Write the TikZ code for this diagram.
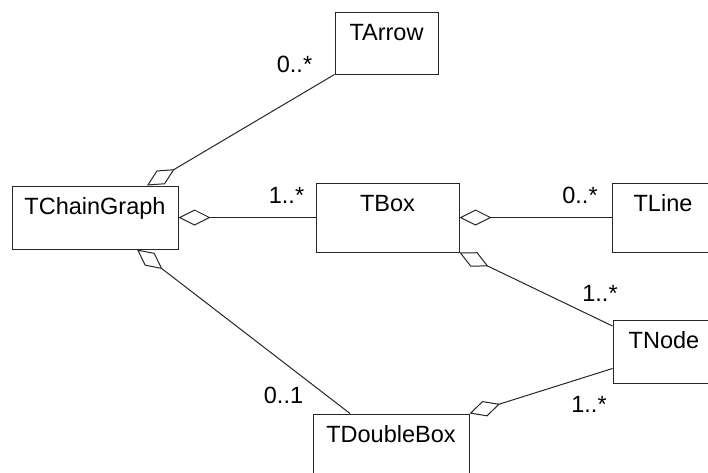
\documentclass[tikz,border=0pt]{standalone}
\usepackage{fontspec}
\setmainfont{Liberation Sans}
\usetikzlibrary{arrows.meta}
\begin{document}
\begin{tikzpicture}[x=1pt,y=-1pt,
  every node/.style={font=\fontsize{23.5}{28}\selectfont},
  classbox/.style={draw=black!85, line width=1pt, rectangle, inner sep=0pt},
  cname/.style={label={[anchor=base,yshift=-29pt]north:#1}},
  assoc/.style={draw=black!85, line width=1pt},
  agg/.style={assoc, {Diamond[open,length=32pt,width=16pt,line width=1pt]}-},
  mult/.style={anchor=base, inner sep=0pt}]
\useasboundingbox (0,0) rectangle (708,472);
\clip (0,0) rectangle (708,472);
% class boxes
\node[classbox, minimum width=103pt, minimum height=62pt, cname=TArrow] (arrow) at (386.5,43) {};
\node[classbox, minimum width=166pt, minimum height=63pt, cname=TChainGraph] (chain) at (95,217.5) {};
\node[classbox, minimum width=143pt, minimum height=69pt, cname=TBox] (box) at (387.5,217.5) {};
\node[classbox, minimum width=102pt, minimum height=69pt, cname=TLine] (line) at (663,217.5) {};
\node[classbox, minimum width=102pt, minimum height=63pt, cname=TNode] (tnode) at (664,351.5) {};
\node[classbox, minimum width=156pt, minimum height=64pt, cname=TDoubleBox] (dbl) at (391,446) {};
% aggregations
\draw[agg] ([xshift=52pt]chain.north) -- (arrow.south west);
\draw[agg] (chain.east) -- (box.west);
\draw[agg] ([xshift=42pt]chain.south) -- ([xshift=-41pt]dbl.north);
\draw[agg] (box.east) -- (line.west);
\draw[agg] (box.south east) -- ([yshift=25.5pt]tnode.west);
\draw[agg] (dbl.north east) -- ([yshift=-17pt]tnode.west);
% multiplicities
\node[mult] (m1) at (294.5,72) {0..*};
\node[mult] (m2) at (286.5,203) {1..*};
\node[mult] (m3) at (580,203) {0..*};
\node[mult] (m4) at (600,301) {1..*};
\node[mult] (m5) at (283.5,403) {0..1};
\node[mult] (m6) at (589,412) {1..*};
\end{tikzpicture}
\end{document}
